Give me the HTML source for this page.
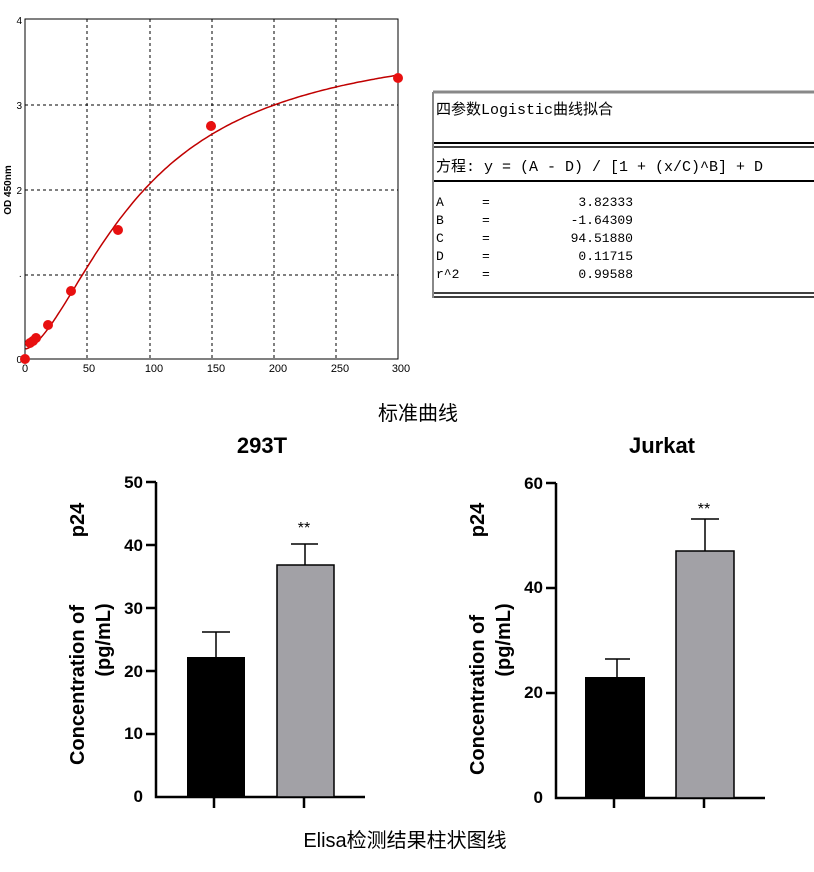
<!DOCTYPE html>
<html><head><meta charset="utf-8"><style>
body{margin:0;background:#fff;width:814px;height:872px;overflow:hidden}
svg{position:absolute;left:0;top:0}
</style></head><body>
<svg width="814" height="872" xmlns="http://www.w3.org/2000/svg" font-family="Liberation Sans, Noto Sans CJK SC, sans-serif">
<!-- top chart -->
<g stroke="#000" stroke-dasharray="3,3" stroke-width="1">
<line x1="87" y1="19" x2="87" y2="359"/><line x1="150" y1="19" x2="150" y2="359"/>
<line x1="212" y1="19" x2="212" y2="359"/><line x1="274" y1="19" x2="274" y2="359"/>
<line x1="336" y1="19" x2="336" y2="359"/>
<line x1="25" y1="105" x2="398" y2="105"/><line x1="25" y1="190" x2="398" y2="190"/>
<line x1="25" y1="275" x2="398" y2="275"/>
</g>
<rect x="25" y="19" width="373" height="340" fill="none" stroke="#000" stroke-width="1"/>
<g font-size="10" fill="#000" text-anchor="end">
<text x="22" y="24">4</text><text x="22" y="109">3</text><text x="22" y="194">2</text><text x="22" y="279">·</text><text x="22" y="363">0</text>
</g>
<g font-size="11" fill="#000" text-anchor="middle">
<text x="25" y="372">0</text><text x="89" y="372">50</text><text x="154" y="372">100</text><text x="216" y="372">150</text><text x="278" y="372">200</text><text x="340" y="372">250</text><text x="401" y="372">300</text>
</g>
<text transform="translate(11,190) rotate(-90)" font-size="10" font-weight="bold" text-anchor="middle">OD 450nm</text>
<path id="curve" fill="none" stroke="#c00000" stroke-width="1.5" d=""/>
<g fill="#e81010">
<circle cx="25" cy="359" r="5"/><circle cx="30" cy="343" r="5"/><circle cx="33" cy="341" r="5"/><circle cx="36" cy="338" r="5"/>
<circle cx="48" cy="325" r="5"/><circle cx="71" cy="291" r="5"/><circle cx="118" cy="230" r="5"/><circle cx="211" cy="126" r="5"/><circle cx="398" cy="78" r="5"/>
</g>
<!-- table -->
<line x1="433" y1="92" x2="814" y2="92" stroke="#888" stroke-width="3"/>
<line x1="433" y1="92" x2="433" y2="298" stroke="#888" stroke-width="2"/>
<g font-family="Liberation Mono, Noto Sans CJK SC, monospace" font-size="15" fill="#000">
<text x="436" y="114">四参数Logistic曲线拟合</text>
<text x="436" y="171">方程: y = (A - D) / [1 + (x/C)^B] + D</text>
</g>
<line x1="434" y1="143" x2="814" y2="143" stroke="#000" stroke-width="2"/>
<line x1="434" y1="147" x2="814" y2="147" stroke="#000" stroke-width="1.5"/>
<line x1="434" y1="181" x2="814" y2="181" stroke="#000" stroke-width="2"/>
<g font-family="Liberation Mono, monospace" font-size="13" fill="#000">
<text x="436" y="206">A</text><text x="482" y="206">=</text><text x="633" y="206" text-anchor="end">3.82333</text>
<text x="436" y="224">B</text><text x="482" y="224">=</text><text x="633" y="224" text-anchor="end">-1.64309</text>
<text x="436" y="242">C</text><text x="482" y="242">=</text><text x="633" y="242" text-anchor="end">94.51880</text>
<text x="436" y="260">D</text><text x="482" y="260">=</text><text x="633" y="260" text-anchor="end">0.11715</text>
<text x="436" y="278">r^2</text><text x="482" y="278">=</text><text x="633" y="278" text-anchor="end">0.99588</text>
</g>
<line x1="434" y1="293" x2="814" y2="293" stroke="#000" stroke-width="1.5"/>
<line x1="434" y1="297" x2="814" y2="297" stroke="#000" stroke-width="1.5"/>
<text x="418" y="420" font-size="20" text-anchor="middle">标准曲线</text>
<text x="405" y="847" font-size="20" text-anchor="middle">Elisa检测结果柱状图线</text>
<!-- left bar chart -->
<g font-weight="bold">
<text x="262" y="453" font-size="22" text-anchor="middle">293T</text>
<g font-size="17" text-anchor="end">
<text x="143" y="488">50</text><text x="143" y="551">40</text><text x="143" y="614">30</text><text x="143" y="677">20</text><text x="143" y="739">10</text><text x="143" y="802">0</text>
</g>
<text transform="translate(84,685) rotate(-90)" font-size="20" text-anchor="middle">Concentration of</text>
<text transform="translate(84,520) rotate(-90)" font-size="20" text-anchor="middle">p24</text>
<text transform="translate(110,640) rotate(-90)" font-size="20" text-anchor="middle">(pg/mL)</text>
<text x="662" y="453" font-size="22" text-anchor="middle">Jurkat</text>
<g font-size="17" text-anchor="end">
<text x="543" y="489">60</text><text x="543" y="593">40</text><text x="543" y="698">20</text><text x="543" y="803">0</text>
</g>
<text transform="translate(484,695) rotate(-90)" font-size="20" text-anchor="middle">Concentration of</text>
<text transform="translate(484,520) rotate(-90)" font-size="20" text-anchor="middle">p24</text>
<text transform="translate(510,640) rotate(-90)" font-size="20" text-anchor="middle">(pg/mL)</text>
</g>
<g stroke="#000" stroke-width="2.5" fill="none">
<path d="M156 482V797H365M146 482H156M146 545H156M146 608H156M146 671H156M146 734H156M214 797V808M304 797V808"/>
<path d="M556 483V798H765M546 483H556M546 588H556M546 693H556M614 798V808M704 798V808"/>
<path stroke-width="1.5" d="M216 657V632M202 632H230M305 565V544M291 544H318M617 677V659M605 659H630M705 551V519M691 519H719"/>
</g>
<rect x="187" y="657" width="58" height="140" fill="#000"/>
<rect x="277" y="565" width="57" height="232" fill="#a2a1a6" stroke="#000" stroke-width="1.5"/>
<rect x="585" y="677" width="60" height="121" fill="#000"/>
<rect x="676" y="551" width="58" height="247" fill="#a2a1a6" stroke="#000" stroke-width="1.5"/>
<text x="304" y="533" font-size="16" text-anchor="middle">**</text>
<text x="704" y="514" font-size="16" text-anchor="middle">**</text>
</svg>
<script>
var A=3.82333,B=-1.64309,C=94.5188,D=0.11715,d="";
for(var x=0.5;x<=300;x+=2){var y=(A-D)/(1+Math.pow(x/C,B))+D;var px=25+x*373/300,py=359-y*85;d+=(d?"L":"M")+px.toFixed(1)+" "+py.toFixed(1);}
document.getElementById("curve").setAttribute("d",d);
</script>
</body></html>
